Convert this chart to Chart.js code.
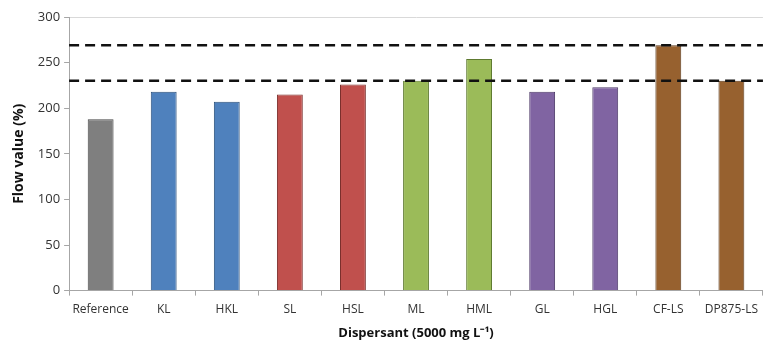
<!DOCTYPE html>
<html>
<head>
<meta charset="utf-8">
<script src="https://cdn.jsdelivr.net/npm/chart.js@4"></script>
<style>
  html, body { margin: 0; padding: 0; background: #fff; }
  #wrap { width: 765px; height: 340px; }
</style>
</head>
<body>
<div id="wrap"><canvas id="flowChart"></canvas></div>
<script>
const categories = ['Reference', 'KL', 'HKL', 'SL', 'HSL', 'ML', 'HML', 'GL', 'HGL', 'CF-LS', 'DP875-LS'];
const flowValues = [188, 218, 207, 215, 226, 230, 254, 218, 223, 269, 230];
const barColors = ['#7f7f7f', '#4f81bd', '#4f81bd', '#c0504d', '#c0504d', '#9bbb59', '#9bbb59', '#8064a2', '#8064a2', '#97612f', '#97612f'];
const borderColors = ['#454545', '#2a4f7a', '#2a4f7a', '#7a2e2b', '#7a2e2b', '#5e7a30', '#5e7a30', '#4d3a68', '#4d3a68', '#5c3a1b', '#5c3a1b'];
const yTicks = [0, 50, 100, 150, 200, 250, 300];
const limitLines = [230, 269];

// dashed horizontal reference lines across the whole plot area
const limitPlugin = {
  id: 'limitLines',
  afterDatasetsDraw(chart) {
    const { ctx, chartArea, scales } = chart;
    ctx.save();
    ctx.strokeStyle = '#111';
    ctx.lineWidth = 2.5;
    ctx.setLineDash([10, 6]);
    limitLines.forEach(v => {
      const y = scales.y.getPixelForValue(v);
      ctx.beginPath();
      ctx.moveTo(chartArea.left, y);
      ctx.lineTo(chartArea.right, y);
      ctx.stroke();
    });
    ctx.restore();
  }
};

const font = "'Open Sans', sans-serif";

new Chart(document.getElementById('flowChart'), {
  type: 'bar',
  data: {
    labels: categories,
    datasets: [{
      data: flowValues,
      backgroundColor: barColors,
      borderColor: borderColors,
      borderWidth: 1,
      categoryPercentage: 1,
      barPercentage: 0.41
    }]
  },
  options: {
    responsive: true,
    maintainAspectRatio: false,
    animation: false,
    layout: { padding: { left: 11, right: 0, top: 17, bottom: 0 } },
    plugins: {
      legend: { display: false },
      tooltip: { enabled: false }
    },
    scales: {
      x: {
        grid: {
          display: true,
          drawOnChartArea: false,
          offset: true,
          tickLength: 5,
          tickColor: '#a6a6a6'
        },
        border: { color: '#a6a6a6' },
        ticks: {
          color: '#333',
          font: { family: font, size: 12 },
          padding: 7,
          maxRotation: 0,
          minRotation: 0,
          autoSkip: false
        },
        title: {
          display: true,
          text: 'Dispersant (5000 mg L⁻¹)',
          color: '#111',
          font: { family: font, size: 13, weight: 'bold', lineHeight: 1.0 },
          padding: { top: 3, bottom: 0 }
        }
      },
      y: {
        min: 0,
        max: 300,
        afterBuildTicks(axis) { axis.ticks = yTicks.map(v => ({ value: v })); },
        grid: {
          color: ctx => (ctx.tick && ctx.tick.value === 300 ? '#d9d9d9' : 'transparent'),
          tickColor: '#a6a6a6',
          tickLength: 5
        },
        border: { color: '#a6a6a6' },
        ticks: { color: '#333', font: { family: font, size: 13 }, padding: 4 },
        title: {
          display: true,
          text: 'Flow value (%)',
          color: '#111',
          font: { family: font, size: 14, weight: 'bold' },
          padding: { top: 0, bottom: 6 }
        }
      }
    }
  },
  plugins: [limitPlugin]
});
</script>
</body>
</html>
